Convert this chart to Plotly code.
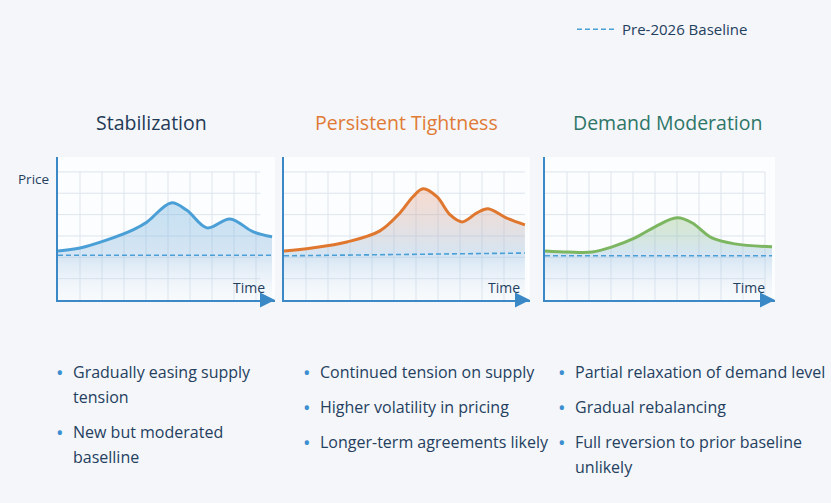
import plotly.graph_objects as go

# ---------------- data ----------------
titles = ["Stabilization", "Persistent Tightness", "Demand Moderation"]
title_colors = ["#1f3a57", "#e07a35", "#2e7568"]
line_colors = ["#4a9fd6", "#e0772f", "#7cb661"]
fill_rgb = ["74,159,214", "232,140,100", "124,182,97"]

s1_x = [0.0, 1.0, 2.23, 3.41, 4.05, 5.14, 5.86, 6.77, 7.82, 8.86, 9.73]
s1_y = [2.30, 2.44, 2.82, 3.29, 3.66, 4.55, 4.20, 3.38, 3.80, 3.20, 2.96]

s2_x = [0.0, 1.27, 2.86, 4.36, 5.27, 5.86, 6.32, 6.95, 7.55, 8.09, 8.77, 9.27, 10.1, 10.95]
s2_y = [2.30, 2.44, 2.72, 3.24, 4.08, 4.84, 5.21, 4.84, 3.99, 3.66, 4.08, 4.27, 3.85, 3.52]

s3_x = [0.0, 1.05, 2.14, 3.05, 4.09, 5.0, 6.0, 6.68, 7.59, 8.64, 10.32]
s3_y = [2.30, 2.25, 2.25, 2.49, 2.91, 3.43, 3.85, 3.62, 2.91, 2.63, 2.49]

base_x = [[0.0, 9.73], [0.0, 10.95], [0.0, 10.32]]
base_y = [[2.10, 2.10], [2.07, 2.20], [2.07, 2.07]]

series_x = [s1_x, s2_x, s3_x]
series_y = [s1_y, s2_y, s3_y]

grid_x = [list(range(1, 10)), list(range(1, 11)), list(range(1, 11))]
grid_xmax = [9.2, 10.95, 10.0]
grid_y = [1, 2, 3, 4, 5, 6]

bullets = [
    [["Gradually easing supply", "tension"], ["New but moderated", "baselline"]],
    [["Continued tension on supply"], ["Higher volatility in pricing"], ["Longer-term agreements likely"]],
    [["Partial relaxation of demand level"], ["Gradual rebalancing"], ["Full reversion to prior baseline", "unlikely"]],
]

legend_label = "Pre-2026 Baseline"

# ---------------- layout geometry (px) ----------------
W, H = 831, 503
panel_px = [(58, 275), (284, 530), (545, 775)]
unit = 22.0
y_top_px, y_bot_px = 157, 300
y_max = 6.7
axis_color = "#3a88c6"
text_color = "#24405f"
FONT = "Open Sans"

fig = go.Figure()
annotations = []

for i in range(3):
    xa = "x" if i == 0 else f"x{i+1}"
    ya = "y" if i == 0 else f"y{i+1}"
    x0, x1 = panel_px[i]
    xmax = (x1 - x0) / unit
    # grid
    for gx in grid_x[i]:
        fig.add_trace(go.Scatter(x=[gx, gx], y=[0, grid_y[-1]], mode="lines",
                                 line=dict(color="#dde5ee", width=1),
                                 xaxis=xa, yaxis=ya, showlegend=False, hoverinfo="skip"))
    for gy in grid_y:
        fig.add_trace(go.Scatter(x=[0, grid_xmax[i]], y=[gy, gy], mode="lines",
                                 line=dict(color="#dde5ee", width=1),
                                 xaxis=xa, yaxis=ya, showlegend=False, hoverinfo="skip"))
    # fill + line
    rgb = fill_rgb[i]
    ymx = max(series_y[i])
    fig.add_trace(go.Scatter(
        x=series_x[i], y=series_y[i], mode="lines",
        line=dict(color=line_colors[i], width=3, shape="spline", smoothing=1.0),
        fill="tozeroy",
        fillgradient=dict(type="vertical", start=0, stop=ymx,
                          colorscale=[[0, "rgba(215,228,242,0.10)"],
                                      [2.1 / ymx, "rgba(150,190,225,0.38)"],
                                      [1, f"rgba({rgb},0.30)"]]),
        xaxis=xa, yaxis=ya, showlegend=False, hoverinfo="skip"))
    # baseline
    fig.add_trace(go.Scatter(
        x=base_x[i], y=base_y[i], mode="lines",
        line=dict(color="#4a9fd6", width=1.6, dash="5px,3px"),
        xaxis=xa, yaxis=ya, name=legend_label, showlegend=(i == 0),
        hoverinfo="skip"))

    dom_x = [x0 / W, x1 / W]
    dom_y = [(H - y_bot_px) / H, (H - y_top_px) / H]
    fig.update_layout(**{
        ("xaxis" if i == 0 else f"xaxis{i+1}"): dict(
            domain=dom_x, range=[0, xmax], showgrid=False, zeroline=False,
            showticklabels=False, showline=True, linecolor=axis_color, linewidth=2,
            anchor=ya, fixedrange=True),
        ("yaxis" if i == 0 else f"yaxis{i+1}"): dict(
            domain=dom_y, range=[0, y_max], showgrid=False, zeroline=False,
            showticklabels=False, showline=True, linecolor=axis_color, linewidth=2,
            anchor=xa, fixedrange=True),
    })
    # arrow head on x axis
    annotations.append(dict(x=xmax, y=0, ax=xmax - 0.6, ay=0, xref=xa, yref=ya,
                            axref=xa, ayref=ya, text="", showarrow=True,
                            arrowhead=2, arrowsize=1.5, arrowwidth=2,
                            arrowcolor=axis_color))
    # Time label
    annotations.append(dict(x=(x1 - 8) / W, y=(H - 287) / H, xref="paper", yref="paper",
                            text="Time", showarrow=False, xanchor="right", yanchor="middle",
                            font=dict(family=FONT, size=14, color=text_color)))
    # title
    cx = [151, 406, 667][i]
    annotations.append(dict(x=cx / W, y=(H - 122) / H, xref="paper", yref="paper",
                            text=titles[i], showarrow=False, xanchor="center", yanchor="middle",
                            font=dict(family=FONT, size=19.5, color=title_colors[i])))
    # bullets
    dot_x = [60, 307, 562][i]
    txt_x = dot_x + 11
    ypos = 372
    for b in bullets[i]:
        annotations.append(dict(x=dot_x / W, y=(H - ypos) / H, xref="paper", yref="paper",
                                text="•", showarrow=False, xanchor="center", yanchor="middle",
                                font=dict(family=FONT, size=20, color="#3b8ed0")))
        for k, line in enumerate(b):
            annotations.append(dict(x=txt_x / W, y=(H - ypos) / H, xref="paper", yref="paper",
                                    text=line, showarrow=False, xanchor="left", yanchor="middle",
                                    font=dict(family=FONT, size=16, color=text_color)))
            if k < len(b) - 1:
                ypos += 25
        ypos += 35

# Price label
annotations.append(dict(x=33 / W, y=(H - 179) / H, xref="paper", yref="paper",
                        text="Price", showarrow=False, xanchor="center", yanchor="middle",
                        font=dict(family=FONT, size=13.5, color=text_color)))

fig.update_layout(
    width=W, height=H,
    margin=dict(l=0, r=0, t=0, b=0),
    paper_bgcolor="#f4f6f9",
    plot_bgcolor="rgba(255,255,255,0.75)",
    annotations=annotations,
    showlegend=True,
    legend=dict(x=572 / W, y=1 - 13 / H, xanchor="left", yanchor="top",
                itemwidth=40,
                bgcolor="rgba(0,0,0,0)", font=dict(family=FONT, size=15, color=text_color)),
)

fig.write_html("out.html")
